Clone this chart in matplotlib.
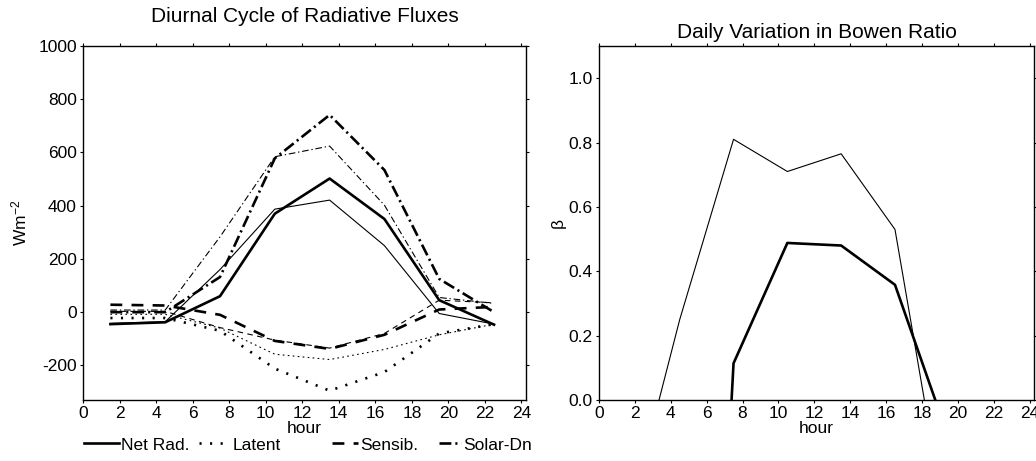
import matplotlib
matplotlib.use('Agg')
import matplotlib.pyplot as plt
import numpy as np

plt.rcParams['font.family'] = ['Liberation Sans', 'DejaVu Sans']
plt.rcParams['mathtext.fontset'] = 'custom'
plt.rcParams['mathtext.rm'] = 'Liberation Sans'
plt.rcParams['mathtext.it'] = 'Liberation Sans:italic'
plt.rcParams['axes.unicode_minus'] = False

# hours of the 3-hourly means
hours = [1.5, 4.5, 7.5, 10.5, 13.5, 16.5, 19.5, 22.5]

# fluxes, W m-2 (thick = first set, thin = second set)
net_thick = [-45, -38, 60, 370, 502, 350, 45, -47]
net_thin = [-42, -36, 160, 387, 421, 250, -5, -45]
lat_thick = [-22, -22, -70, -212, -295, -225, -80, -45]
lat_thin = [-8, -8, -60, -158, -178, -140, -85, -45]
sen_thick = [28, 25, -10, -108, -138, -85, 10, 20]
sen_thin = [3, 3, -58, -105, -135, -80, 45, 35]
sol_thick = [0, 0, 132, 578, 741, 534, 125, 0]
sol_thin = [8, 8, 283, 584, 624, 402, 55, 33]

# Bowen ratio (negative values fall below the axis)
bowen_thin = [-0.4, 0.25, 0.81, 0.71, 0.765, 0.53, -0.44, -0.5]
bowen_thick = [-2.0, -3.0, 0.114, 0.488, 0.48, 0.358, -0.12, -0.3]

xticks = list(range(0, 25, 2))
flux_ticks = [-200, 0, 200, 400, 600, 800, 1000]
bowen_ticks = [0.0, 0.2, 0.4, 0.6, 0.8, 1.0]

W, H = 1036, 461
FS = 12.5
fig = plt.figure(figsize=(W / 100, H / 100), dpi=100)

ax1 = fig.add_axes([83 / W, 1 - 400 / H, (526 - 83) / W, (400 - 46) / H])
ax2 = fig.add_axes([599 / W, 1 - 400 / H, (1034 - 599) / W, (400 - 46) / H])

thick = 1.9
thin = 0.8

l_net, = ax1.plot(hours, net_thick, color='k', lw=thick, ls='-')
ax1.plot(hours, net_thin, color='k', lw=thin, ls='-')
l_lat, = ax1.plot(hours, lat_thick, color='k', lw=thick, dashes=(0.8, 3.2))
ax1.plot(hours, lat_thin, color='k', lw=thin, dashes=(1.5, 3.0))
l_sen, = ax1.plot(hours, sen_thick, color='k', lw=thick, dashes=(4.5, 3.5))
ax1.plot(hours, sen_thin, color='k', lw=thin, dashes=(5, 4))
l_sol, = ax1.plot(hours, sol_thick, color='k', lw=thick, dashes=(4.5, 1.5, 0.8, 1.5))
ax1.plot(hours, sol_thin, color='k', lw=thin, dashes=(6, 2.5, 1.2, 2.5))

ax1.set_xlim(0, 24.25)
ax1.set_ylim(-330, 1000)
ax1.set_xticks(xticks)
ax1.set_yticks(flux_ticks)
ax1.set_xlabel('hour', fontsize=FS, labelpad=0)
ax1.set_ylabel('Wm$^{-2}$', fontsize=FS, labelpad=6)
ax1.set_title('Diurnal Cycle of Radiative Fluxes', fontsize=15, pad=17)

ax2.plot(hours, bowen_thin, color='k', lw=thin)
ax2.plot(hours, bowen_thick, color='k', lw=thick)
ax2.set_xlim(0, 24.25)
ax2.set_ylim(0, 1.1)
ax2.set_xticks(xticks)
ax2.set_yticks(bowen_ticks)
ax2.set_yticklabels(['%.1f' % v for v in bowen_ticks])
ax2.set_xlabel('hour', fontsize=FS, labelpad=0)
ax2.set_ylabel('\u03b2', fontsize=FS, labelpad=2)
ax2.set_title('Daily Variation in Bowen Ratio', fontsize=15, pad=6)

for ax in (ax1, ax2):
    ax.tick_params(direction='out', length=2.5, width=0.8, labelsize=FS,
                   top=True, right=True, pad=2)
    for s in ax.spines.values():
        s.set_linewidth(1.0)

# legend entries placed one by one below the left panel
entries = [(l_net, 'Net Rad.', 84, 2.0), (l_lat, 'Latent', 199, 1.8),
           (l_sen, 'Sensib.', 332, 1.5), (l_sol, 'Solar-Dn', 439, 1.25)]
for h, lab, x, hl in entries:
    fig.legend(handles=[h], labels=[lab], loc='center left',
               bbox_to_anchor=(x / W, 1 - 445 / H), frameon=False,
               handlelength=hl, handletextpad=0.15, borderpad=0,
               borderaxespad=0, fontsize=FS)

fig.savefig('out.png', dpi=100)
